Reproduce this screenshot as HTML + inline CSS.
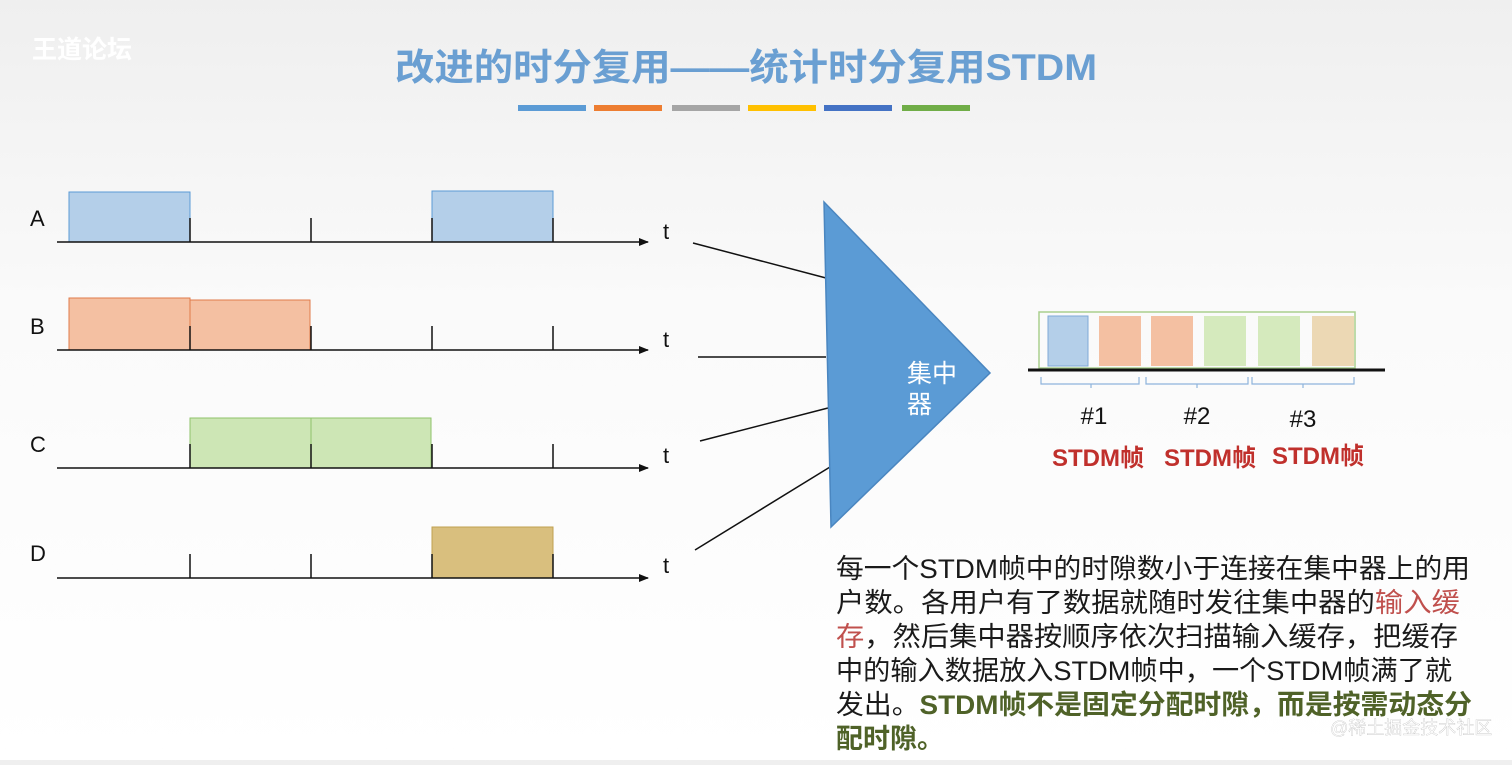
<!DOCTYPE html>
<html><head><meta charset="utf-8"><style>
html,body{margin:0;padding:0;}
body{width:1512px;height:760px;overflow:hidden;background:linear-gradient(#efefef,#fafafa 40%,#ffffff);font-family:"Liberation Sans","Noto Sans CJK SC",sans-serif;}
svg text{font-family:"Liberation Sans","Noto Sans CJK SC",sans-serif;}
</style></head><body>
<svg width="1512" height="760" viewBox="0 0 1512 760" xmlns="http://www.w3.org/2000/svg">
<defs><marker id="ar" markerWidth="10" markerHeight="8" refX="9" refY="4" orient="auto" markerUnits="userSpaceOnUse"><path d="M0,0 L10,4 L0,8 Z" fill="#111"/></marker></defs>
<text x="32" y="58" font-size="25" fill="#ffffff" font-weight="bold">王道论坛</text>
<text x="746" y="80" font-size="37" fill="#6a9fd2" text-anchor="middle" font-weight="bold" textLength="702" lengthAdjust="spacingAndGlyphs">改进的时分复用——统计时分复用STDM</text>
<g>
<rect x="518" y="105" width="68" height="6" fill="#5b9bd5"/>
<rect x="594" y="105" width="68" height="6" fill="#ed7d31"/>
<rect x="672" y="105" width="68" height="6" fill="#a5a5a5"/>
<rect x="748" y="105" width="68" height="6" fill="#ffc000"/>
<rect x="824" y="105" width="68" height="6" fill="#4472c4"/>
<rect x="902" y="105" width="68" height="6" fill="#70ad47"/>
</g>
<rect x="69" y="192" width="121" height="50" fill="#b4cfe9" stroke="#5b9bd5"/>
<rect x="432" y="191" width="121" height="51" fill="#b4cfe9" stroke="#5b9bd5"/>
<rect x="69" y="298" width="121" height="52" fill="#f4c0a2" stroke="#e07b4a"/>
<rect x="190" y="300" width="120" height="50" fill="#f4c0a2" stroke="#e07b4a"/>
<rect x="190" y="418" width="121" height="50" fill="#cde6b5" stroke="#8fc36a"/>
<rect x="311" y="418" width="120" height="50" fill="#cde6b5" stroke="#8fc36a"/>
<rect x="432" y="527" width="121" height="51" fill="#d9bf7e" stroke="#c0a050"/>
<g stroke="#111" stroke-width="1.5">
<line x1="57" y1="242" x2="648" y2="242" marker-end="url(#ar)"/>
<line x1="57" y1="350" x2="648" y2="350" marker-end="url(#ar)"/>
<line x1="57" y1="468" x2="648" y2="468" marker-end="url(#ar)"/>
<line x1="57" y1="578" x2="648" y2="578" marker-end="url(#ar)"/>
<path d="M190,218V242M311,218V242M432,218V242M553,218V242"/>
<path d="M190,326V350M311,326V350M432,326V350M553,326V350"/>
<path d="M190,444V468M311,444V468M432,444V468M553,444V468"/>
<path d="M190,554V578M311,554V578M432,554V578M553,554V578"/>
<line x1="693" y1="243" x2="826" y2="278"/>
<line x1="698" y1="357" x2="826" y2="357"/>
<line x1="700" y1="441" x2="828" y2="408"/>
<line x1="695" y1="550" x2="830" y2="467"/>
</g>
<g font-size="22" fill="#111">
<text x="30" y="226">A</text><text x="30" y="334">B</text><text x="30" y="452">C</text><text x="30" y="561">D</text>
<text x="663" y="239">t</text><text x="663" y="347">t</text><text x="663" y="463">t</text><text x="663" y="573">t</text>
</g>
<polygon points="824,202 990,373 831,527" fill="#5b9bd5" stroke="#4a86c0" stroke-width="1.5"/>
<text x="907" y="382" font-size="25" fill="#fff">集中</text>
<text x="907" y="413" font-size="25" fill="#fff">器</text>
<rect x="1039" y="312" width="316" height="56" fill="none" stroke="#a9d08e" stroke-width="1.5"/>
<rect x="1048" y="316" width="40" height="50" fill="#b4cfe9" stroke="#7fa9d6"/>
<rect x="1099" y="316" width="42" height="50" fill="#f4c0a2"/>
<rect x="1151" y="316" width="42" height="50" fill="#f4c0a2"/>
<rect x="1204" y="316" width="42" height="50" fill="#d5eabd"/>
<rect x="1258" y="316" width="42" height="50" fill="#d5eabd"/>
<rect x="1312" y="316" width="42" height="50" fill="#ecd8b4"/>
<line x1="1028" y1="370" x2="1385" y2="370" stroke="#111" stroke-width="3"/>
<g stroke="#8eb4dc" fill="none" stroke-width="1.2">
<path d="M1041,377v7h50v4M1091,388v-4h48v-7"/>
<path d="M1146,377v7h51v4M1197,388v-4h51v-7"/>
<path d="M1252,377v7h51v4M1303,388v-4h51v-7"/>
</g>
<g font-size="24" fill="#111" text-anchor="middle">
<text x="1094" y="424">#1</text><text x="1197" y="424">#2</text><text x="1303" y="427">#3</text>
</g>
<g font-size="24" fill="#c0302c" font-weight="bold" text-anchor="middle">
<text x="1098" y="466">STDM帧</text><text x="1210" y="466">STDM帧</text><text x="1318" y="464">STDM帧</text>
</g>
<g font-size="27" fill="#1a1a1a">
<text x="836" y="578" textLength="634" lengthAdjust="spacingAndGlyphs">每一个STDM帧中的时隙数小于连接在集中器上的用</text>
<text x="836" y="612" textLength="624" lengthAdjust="spacingAndGlyphs">户数。各用户有了数据就随时发往集中器的<tspan fill="#c0504d">输入缓</tspan></text>
<text x="836" y="646" textLength="622" lengthAdjust="spacingAndGlyphs"><tspan fill="#c0504d">存</tspan>，然后集中器按顺序依次扫描输入缓存，把缓存</text>
<text x="836" y="680" textLength="616" lengthAdjust="spacingAndGlyphs">中的输入数据放入STDM帧中，一个STDM帧满了就</text>
<text x="836" y="714" textLength="636" lengthAdjust="spacingAndGlyphs">发出。<tspan fill="#4f6228" font-weight="bold">STDM帧不是固定分配时隙，而是按需动态分</tspan></text>
<text x="836" y="748" fill="#4f6228" font-weight="bold">配时隙。</text>
</g>
<text x="1330" y="734" font-size="18" fill="#ffffff" stroke="#bbb" stroke-width="0.3">@稀土掘金技术社区</text>
</svg>
</body></html>
